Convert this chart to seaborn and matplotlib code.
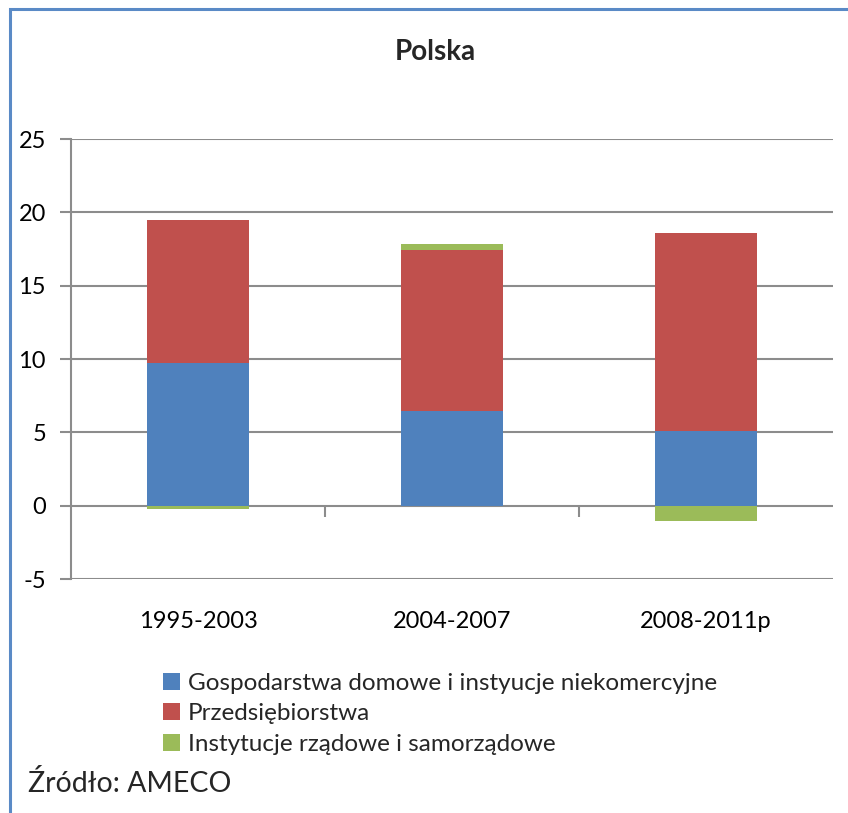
import numpy as np
import pandas as pd
import matplotlib
matplotlib.use("Agg")
import matplotlib.pyplot as plt
from matplotlib.patches import Patch, Rectangle
import seaborn as sns

periods = ["1995-2003", "2004-2007", "2008-2011p"]
households = [9.7, 6.45, 5.1]
enterprises = [9.75, 11.0, 13.5]
government = [-0.25, 0.37, -1.04]
series_names = ["Gospodarstwa domowe i instyucje niekomercyjne",
                "Przedsiębiorstwa",
                "Instytucje rządowe i samorządowe"]
colors = ["#4F81BD", "#C0504D", "#9BBB59"]

df = pd.DataFrame({"period": periods, "hh": households,
                   "ent": enterprises, "gov": government})
# stacked by overlapping cumulative bars (positive part up, negative part down)
df["pos_gov"] = df["gov"].clip(lower=0)
df["neg_gov"] = df["gov"].clip(upper=0)
df["top_gov"] = df["hh"] + df["ent"] + df["pos_gov"]
df["top_ent"] = df["hh"] + df["ent"]

sns.set_style("white")
plt.rcParams["font.family"] = ["Lato", "DejaVu Sans"]
plt.rcParams["axes.unicode_minus"] = False

fig = plt.figure(figsize=(8.48, 8.13), dpi=100)
ax = fig.add_axes([71 / 848, 1 - 579 / 813, (833 - 71) / 848, (579 - 139) / 813])

bw = 0.4
sns.barplot(data=df, x="period", y="top_gov", color=colors[2], saturation=1,
            width=bw, ax=ax, linewidth=0)
sns.barplot(data=df, x="period", y="top_ent", color=colors[1], saturation=1,
            width=bw, ax=ax, linewidth=0)
sns.barplot(data=df, x="period", y="hh", color=colors[0], saturation=1,
            width=bw, ax=ax, linewidth=0)
sns.barplot(data=df, x="period", y="neg_gov", color=colors[2], saturation=1,
            width=bw, ax=ax, linewidth=0)

ax.set_ylim(-5, 25)
ax.set_xlim(-0.5, 2.5)
ax.set_yticks(range(-5, 26, 5))
ax.set_xlabel("")
ax.set_ylabel("")
ax.set_axisbelow(True)
ax.yaxis.grid(True, color="#8C8C8C", linewidth=1.5)
ax.xaxis.grid(False)
for s in ["top", "right", "bottom"]:
    ax.spines[s].set_visible(False)
ax.spines["left"].set_color("#8C8C8C")
ax.spines["left"].set_linewidth(1.5)
ax.tick_params(axis="y", length=8, width=1.5, color="#8C8C8C", pad=10,
               labelsize=17, labelcolor="black", direction="out", left=True)
ax.tick_params(axis="x", length=0, pad=23, labelsize=17, labelcolor="black")

# category separator ticks on the zero line
sec = ax.secondary_xaxis(5 / 30)
sec.set_xticks([0.5, 1.5])
sec.set_xticklabels([])
sec.spines["bottom"].set_visible(False)
sec.tick_params(length=8, width=1.5, color="#8C8C8C", direction="out")

fig.text(435 / 848, 1 - 52 / 813, "Polska", ha="center", va="center",
         fontsize=20, fontweight="bold")

handles = [Patch(facecolor=c, edgecolor="none") for c in colors]
fig.legend(handles, series_names, loc="upper left",
           bbox_to_anchor=(153 / 848, 1 - 663 / 813), frameon=False,
           fontsize=17.5, handlelength=0.7, handleheight=0.7, handletextpad=0.35,
           labelspacing=0.4, borderaxespad=0)

fig.text(28 / 848, 1 - 783 / 813, "Źródło: AMECO", ha="left", va="center",
         fontsize=20.5)

fig.patches.append(Rectangle((10 / 848, -0.1), 1.2, 1 - 9 / 813 + 0.1,
                             transform=fig.transFigure, fill=False,
                             edgecolor="#5A8AC6", linewidth=2.2))

fig.savefig("out.png", dpi=100)
